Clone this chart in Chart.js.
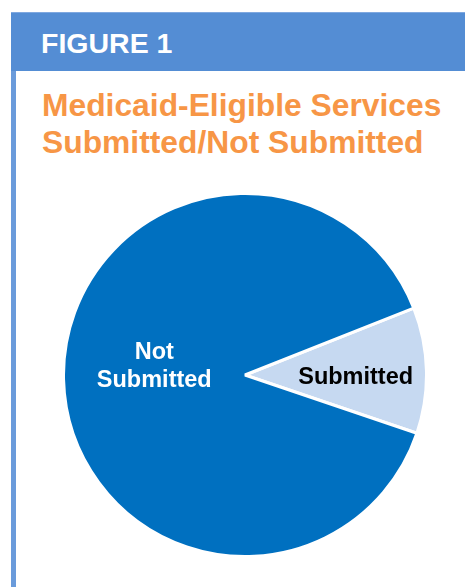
<!DOCTYPE html>
<html>
<head>
<meta charset="utf-8">
<script src="https://cdn.jsdelivr.net/npm/chart.js@4"></script>
<style>
  html, body { margin: 0; padding: 0; background: #fff; }
  body { width: 465px; height: 587px; position: relative; overflow: hidden; font-family: "Liberation Sans", Arial, sans-serif; }
  #bordure { position: absolute; left: 11px; top: 12px; width: 5px; height: 575px; background: #6A9BDB; }
  #entete { position: absolute; left: 11px; top: 12px; width: 454px; height: 59px; background: #548DD4; border-top: 1px solid #7FA8E0; box-sizing: border-box; }
  #entete span { position: absolute; left: 30px; top: 14px; color: #fff; font-weight: bold; font-size: 28.5px; line-height: 32px; }
  #titre { position: absolute; left: 42px; top: 87px; color: #F79646; font-weight: bold; font-size: 31.8px; line-height: 37px; white-space: nowrap; }
  #zone { position: absolute; left: 62px; top: 192px; width: 366px; height: 366px; }
</style>
</head>
<body>
<div id="bordure"></div>
<div id="entete"><span>FIGURE 1</span></div>
<div id="titre">Medicaid-Eligible Services<br>Submitted/Not Submitted</div>
<div id="zone"><canvas id="grafico"></canvas></div>
<script>
const categorias = ["Submitted", "Not Submitted"];
const valores = [11.2, 88.8];
const cores = ["#C6D9F1", "#0070C0"];
const rotulos = [["Submitted"], ["Not", "Submitted"]];
const coresRotulo = ["#000000", "#FFFFFF"];

// escreve os nomes dentro das fatias
const rotulosPlugin = {
  id: "rotulos",
  afterDatasetsDraw(chart) {
    const ctx = chart.ctx;
    const meta = chart.getDatasetMeta(0);
    const fracoes = [0.61, 0.5];
    const ajusteY = [3, -13];
    const tamanho = 23.5;
    const altura = 28;
    meta.data.forEach((arco, i) => {
      const meio = (arco.startAngle + arco.endAngle) / 2;
      const r = arco.outerRadius * fracoes[i];
      const x = arco.x + Math.cos(meio) * r;
      const y = arco.y + Math.sin(meio) * r + ajusteY[i];
      ctx.save();
      ctx.fillStyle = coresRotulo[i];
      ctx.font = "bold " + tamanho + "px 'Liberation Sans', Arial, sans-serif";
      ctx.textAlign = "center";
      ctx.textBaseline = "alphabetic";
      const linhas = rotulos[i];
      linhas.forEach((linha, j) => {
        const base = y + (j - (linhas.length - 1) / 2) * altura + tamanho * 0.716 / 2;
        ctx.fillText(linha, x, base);
      });
      ctx.restore();
    });
  }
};

new Chart(document.getElementById("grafico").getContext("2d"), {
  type: "pie",
  data: {
    labels: categorias,
    datasets: [{
      data: valores,
      backgroundColor: cores,
      borderColor: "#FFFFFF",
      borderWidth: 3
    }]
  },
  options: {
    responsive: true,
    maintainAspectRatio: false,
    animation: false,
    rotation: 68.4,
    layout: { padding: 0 },
    plugins: {
      legend: { display: false },
      tooltip: { enabled: false }
    }
  },
  plugins: [rotulosPlugin]
});
</script>
</body>
</html>
